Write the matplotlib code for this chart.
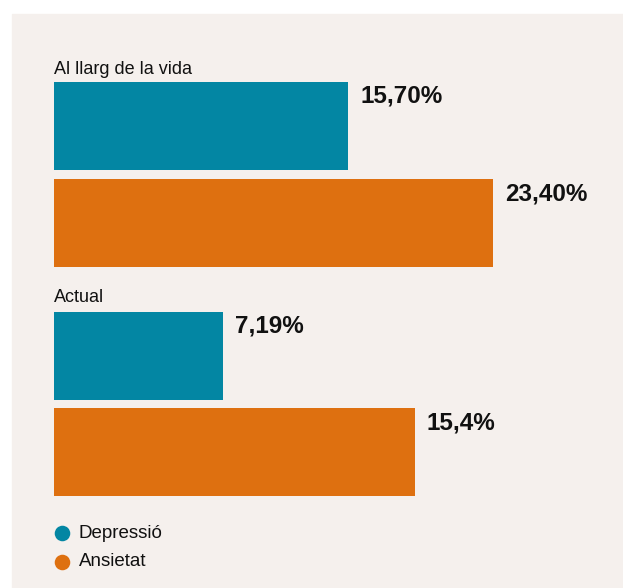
import matplotlib
matplotlib.use("Agg")
import matplotlib.pyplot as plt
from matplotlib.patches import Rectangle

plt.rcParams['font.family'] = ['Liberation Sans', 'DejaVu Sans']

# prevalence data, one group per period
groups = ["Al llarg de la vida", "Actual"]
series = ["Depressió", "Ansietat"]
values = [[15.70, 23.40], [7.19, 15.4]]
value_labels = [["15,70%", "23,40%"], ["7,19%", "15,4%"]]

colors = ["#0386a3", "#de7010"]
bg_color = "#f5f0ed"
text_color = "#111111"

W, H = 623, 588
fig = plt.figure(figsize=(W / 100, H / 100), dpi=100)
fig.patch.set_facecolor("white")

# full-figure axes in pixel units for the panel and legend
base = fig.add_axes([0, 0, 1, 1])
base.set_xlim(0, W)
base.set_ylim(H, 0)
base.axis("off")
base.add_patch(Rectangle((12, 14), W - 12, H - 14, color=bg_color, zorder=0))

# axes placement per group (pixels): top of first bar, bottom of second bar
group_top = [82, 312]
group_bottom = [267, 496]
group_xmax = [29.66, 23.72]
ax_left, ax_right = 54, 610

for gi, (name, vals, labs) in enumerate(zip(groups, values, value_labels)):
    top, bottom = group_top[gi], group_bottom[gi]
    ax = fig.add_axes([ax_left / W, 1 - bottom / H,
                       (ax_right - ax_left) / W, (bottom - top) / H])
    ax.patch.set_alpha(0)
    span = (bottom - top)
    bar_h = 88 / (span - 88)  # bar height relative to center spacing
    ax.barh([0, 1], vals, height=bar_h, color=colors, zorder=2)
    ax.set_ylim(1 + bar_h / 2, -bar_h / 2)
    ax.set_xlim(0, group_xmax[gi])
    ax.axis("off")
    for i, (v, lab) in enumerate(zip(vals, labs)):
        ax.annotate(lab, xy=(v, i - bar_h / 2), xytext=(12, -3),
                    textcoords="offset pixels", ha="left", va="top",
                    fontsize=17.5, fontweight="bold", color=text_color)
    base.text(54, top - 8 if gi == 0 else top - 10, name, ha="left",
              va="baseline", fontsize=13, color=text_color)

# legend
legend_y = [533, 562]
for y, s, c in zip(legend_y, series, colors):
    base.plot([62], [y], marker="o", markersize=11.2, color=c,
              markeredgewidth=0, linestyle="none")
    base.text(79, y, s, ha="left", va="center", fontsize=13.5, color=text_color)

fig.savefig("out.png", dpi=100, facecolor=fig.get_facecolor())
